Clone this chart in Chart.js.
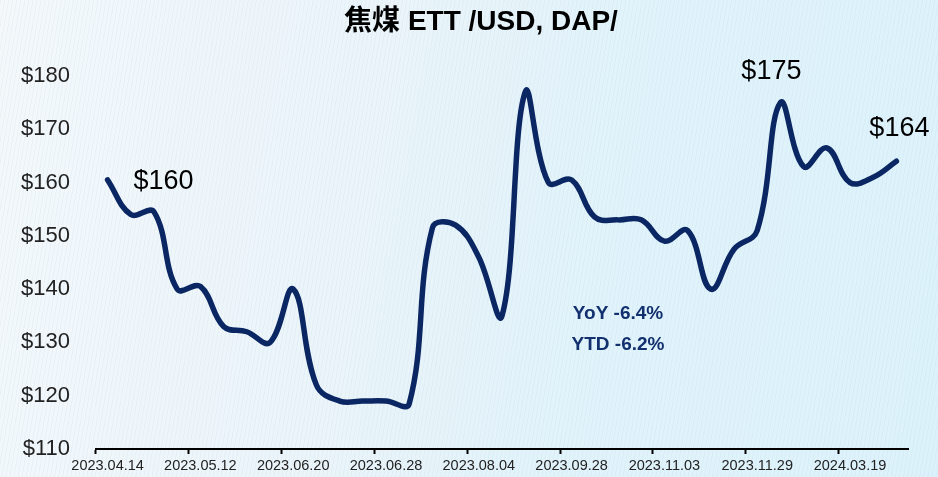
<!DOCTYPE html>
<html>
<head>
<meta charset="utf-8">
<script src="https://cdn.jsdelivr.net/npm/chart.js@4"></script>
<style>
  html, body { margin: 0; padding: 0; }
  body {
    width: 938px; height: 477px; overflow: hidden;
    background:
      repeating-linear-gradient(100deg, rgba(150,190,220,0.10) 0px, rgba(150,190,220,0.10) 1px, rgba(255,255,255,0) 1px, rgba(255,255,255,0) 4px),
      linear-gradient(100deg, #f4f8fb 0%, #eaf4f9 40%, #e2f3fa 60%, #dcf2fb 100%);
  }
  #wrap { position: relative; width: 938px; height: 477px; }
</style>
</head>
<body>
<div id="wrap"><canvas id="c" width="938" height="477"></canvas></div>
<script>
// ---- data ----
const tickDates = ['2023.04.14','2023.05.12','2023.06.20','2023.06.28','2023.08.04','2023.09.28','2023.11.03','2023.11.29','2024.03.19'];
const labelEvery = 4;
const prices = [160.5, 154, 154.5, 140, 140.5, 133, 132, 130, 140, 122,
                119, 119, 119, 118.5, 151.5, 152, 146, 135, 177, 160,
                160.5, 153.5, 153, 153, 149, 151, 140, 147.5, 151, 175,
                163, 166.5, 160, 161, 164];
const categories = prices.map((_, i) => (i % labelEvery === 0 ? tickDates[i / labelEvery] : ''));
const yTicks = [110, 120, 130, 140, 150, 160, 170, 180];
const callouts = [
  { index: 0,  text: '$160' },
  { index: 29, text: '$175' },
  { index: 34, text: '$164' }
];
const statsText = ['YoY -6.4%', 'YTD -6.2%'];

const NAVY = '#0b2763';

const noClipPlugin = {
  id: 'noClipY',
  beforeDraw(chart) {
    const y = chart.scales.y;
    if (y) { y._computeLabelArea = () => undefined; }
  }
};

const annotPlugin = {
  id: 'annot',
  afterDatasetsDraw(chart) {
    const ctx = chart.ctx;
    const xs = chart.scales.x, ys = chart.scales.y;
    ctx.save();
    ctx.fillStyle = '#000';
    ctx.font = '27px "Liberation Sans", Arial, sans-serif';
    ctx.textAlign = 'center';
    ctx.textBaseline = 'middle';
    const offs = { 0: [56, 2], 29: [-9, -31], 34: [3, -33] };
    callouts.forEach(c => {
      const px = xs.getPixelForValue(c.index);
      const py = ys.getPixelForValue(prices[c.index]);
      const o = offs[c.index];
      ctx.fillText(c.text, px + o[0], py + o[1]);
    });
    ctx.fillStyle = '#12306e';
    ctx.font = 'bold 19px "Liberation Sans", Arial, sans-serif';
    const sx = xs.getPixelForValue(22);
    ctx.fillText(statsText[0], sx, ys.getPixelForValue(135.3));
    ctx.fillText(statsText[1], sx, ys.getPixelForValue(129.5));
    ctx.restore();
  }
};

new Chart(document.getElementById('c'), {
  type: 'line',
  data: {
    labels: categories,
    datasets: [{
      data: prices,
      borderColor: NAVY,
      borderWidth: 5.5,
      pointRadius: 0,
      tension: 0.4,
      fill: false,
      borderCapStyle: 'round',
      borderJoinStyle: 'round'
    }]
  },
  options: {
    responsive: false,
    animation: false,
    layout: { padding: { left: 54, right: 30, top: 0, bottom: 0 } },
    plugins: {
      legend: { display: false },
      tooltip: { enabled: false },
      title: {
        display: true,
        text: '焦煤 ETT /USD, DAP/',
        color: '#000',
        font: { family: '"Liberation Sans", "Noto Sans CJK SC", Arial, sans-serif', size: 28, weight: 'bold' },
        padding: { top: 5, bottom: 37.4 }
      }
    },
    scales: {
      x: {
        type: 'category',
        offset: true,
        grid: {
          offset: true,
          drawOnChartArea: false,
          drawTicks: true,
          tickLength: 5,
          tickWidth: 2,
          tickColor: (ctx) => (ctx.index % labelEvery === 0 && ctx.index < prices.length ? '#000' : 'rgba(0,0,0,0)'),
          color: 'rgba(0,0,0,0)'
        },
        border: { display: true, color: '#000', width: 2 },
        ticks: {
          autoSkip: false,
          maxRotation: 0,
          minRotation: 0,
          padding: 3,
          color: '#222',
          font: { family: '"Liberation Sans", Arial, sans-serif', size: 14.5 }
        },
        afterFit(scale) { scale.height = 28; }
      },
      y: {
        min: 110,
        max: 180,
        afterBuildTicks(scale) { scale.ticks = yTicks.map(v => ({ value: v })); },
        grid: {
          display: true,
          drawOnChartArea: false,
          drawTicks: true,
          tickLength: 26,
          tickColor: 'rgba(0,0,0,0)',
          color: 'rgba(0,0,0,0)'
        },
        border: { display: false },
        ticks: {
          padding: 0,
          color: '#222',
          font: { family: '"Liberation Sans", Arial, sans-serif', size: 22 },
          callback: (v) => '$' + v
        },
        afterFit(scale) { scale.width = 42; }
      }
    }
  },
  plugins: [noClipPlugin, annotPlugin]
});
</script>
</body>
</html>
